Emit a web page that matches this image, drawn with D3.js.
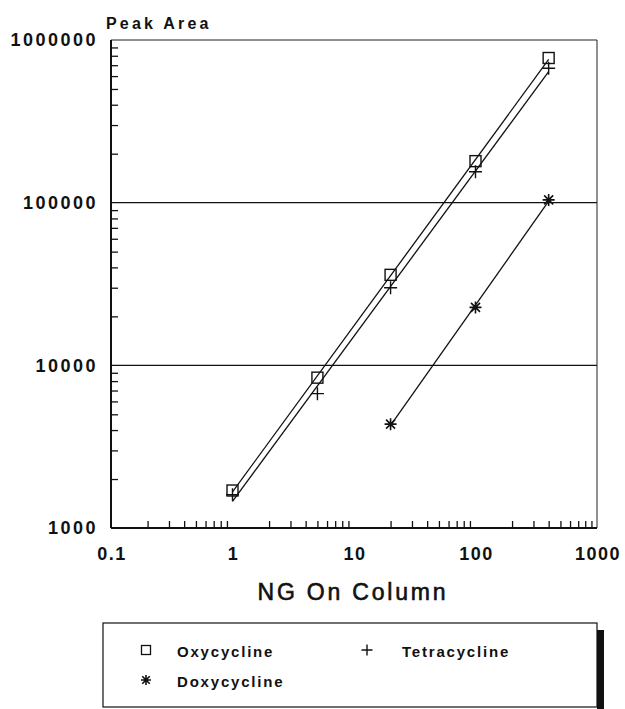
<!DOCTYPE html>
<html>
<head>
<meta charset="utf-8">
<script src="https://cdn.jsdelivr.net/npm/d3@7"></script>
<style>
  html, body { margin: 0; padding: 0; background: #fff; }
  svg { display: block; font-family: "Liberation Sans", Arial, Helvetica, sans-serif; }
</style>
</head>
<body>
<svg id="chart" width="625" height="709"></svg>
<script>
// ---- data ----
const ngOnColumn = [1, 5, 20, 100, 400];
const oxycycline = [1700, 8400, 36000, 180000, 775000];
const tetracycline = [1600, 6700, 30000, 155000, 670000];
const doxyNg = [20, 100, 400];
const doxycycline = [4350, 22700, 104000];
const xTicks = [0.1, 1, 10, 100, 1000];
const xTickLabels = ["0.1", "1", "10", "100", "1000"];
const yTicks = [1000, 10000, 100000, 1000000];
const yTickLabels = ["1000", "10000", "100000", "1000000"];
const gridValues = [10000, 100000];
const seriesNames = ["Oxycycline", "Tetracycline", "Doxycycline"];

const svg = d3.select("#chart");
const L = 111, R = 597, T = 40, B = 528;
const x = d3.scaleLog().domain([0.1, 1000]).range([L, R]);
const y = d3.scaleLog().domain([1000, 1000000]).range([B, T]);

// minor ticks
const minor = [];
for (let d = 0.1; d < 1000; d *= 10) for (let k = 2; k <= 9; k++) minor.push(d * k);
const minorY = [];
for (let d = 1000; d < 1000000; d *= 10) for (let k = 2; k <= 9; k++) minorY.push(d * k);

const g = svg.append("g");

// gridlines
g.selectAll(".grid").data(gridValues).enter().append("line")
  .attr("x1", L).attr("x2", R)
  .attr("y1", d => y(d)).attr("y2", d => y(d))
  .attr("stroke", "#111").attr("stroke-width", 1.4);

// frame: top and right thin
g.append("line").attr("x1", L).attr("x2", R).attr("y1", T).attr("y2", T).attr("stroke", "#222").attr("stroke-width", 1);
g.append("line").attr("x1", R).attr("x2", R).attr("y1", T).attr("y2", B).attr("stroke", "#222").attr("stroke-width", 1);

// axes using d3 axis, ticks inward
const xAxis = d3.axisTop(x).tickValues(minor).tickSize(7).tickFormat("");
const xg = g.append("g").attr("transform", `translate(0,${B})`).call(xAxis);
xg.select(".domain").remove();
xg.selectAll(".tick line").attr("stroke", "#111").attr("stroke-width", 1.3);

const yAxis = d3.axisRight(y).tickValues(minorY).tickSize(7).tickFormat("");
const yg = g.append("g").attr("transform", `translate(${L},0)`).call(yAxis);
yg.select(".domain").remove();
yg.selectAll(".tick line").attr("stroke", "#111").attr("stroke-width", 1.3);

// left & bottom axis lines
g.append("line").attr("x1", L).attr("x2", L).attr("y1", T).attr("y2", B).attr("stroke", "#111").attr("stroke-width", 2);
g.append("line").attr("x1", L).attr("x2", R).attr("y1", B).attr("y2", B).attr("stroke", "#111").attr("stroke-width", 2);

// tick labels
g.selectAll(".yl").data(yTicks).enter().append("text")
  .attr("x", 98).attr("y", d => y(d)).attr("dy", "0.36em")
  .attr("text-anchor", "end").attr("font-size", 18).attr("font-weight", "bold")
  .attr("letter-spacing", 2.5).attr("fill", "#111")
  .text((d, i) => yTickLabels[i]);

g.selectAll(".xl").data(xTicks).enter().append("text")
  .attr("x", d => x(d) + 1).attr("y", 560)
  .attr("text-anchor", "middle").attr("font-size", 18).attr("font-weight", "bold")
  .attr("letter-spacing", 1.5).attr("fill", "#111")
  .text((d, i) => xTickLabels[i]);

// axis titles
svg.append("text").attr("x", 106).attr("y", 29)
  .attr("font-size", 16).attr("font-weight", "bold").attr("letter-spacing", 3.2)
  .attr("fill", "#111").text("Peak Area");
svg.append("text").attr("x", 353).attr("y", 600).attr("text-anchor", "middle")
  .attr("font-size", 23).attr("letter-spacing", 2.8).attr("fill", "#111")
  .attr("stroke", "#111").attr("stroke-width", 0.6)
  .text("NG On Column");

// regression line in log-log space
function fit(xs, ys) {
  const lx = xs.map(Math.log10), ly = ys.map(Math.log10);
  const mx = d3.mean(lx), my = d3.mean(ly);
  const b = d3.sum(lx.map((v, i) => (v - mx) * (ly[i] - my))) / d3.sum(lx.map(v => (v - mx) ** 2));
  const a = my - b * mx;
  return v => Math.pow(10, a + b * Math.log10(v));
}
const line = d3.line().x(d => x(d[0])).y(d => y(d[1]));
function drawFit(xs, ys) {
  const f = fit(xs, ys);
  const ends = [xs[0], xs[xs.length - 1]];
  g.append("path").datum(ends.map(v => [v, f(v)])).attr("d", line)
    .attr("fill", "none").attr("stroke", "#111").attr("stroke-width", 1.3);
}
drawFit(ngOnColumn, oxycycline);
drawFit(ngOnColumn, tetracycline);
drawFit(doxyNg, doxycycline);

// markers
function square(sel, cx, cy) {
  sel.append("rect").attr("x", cx - 5.5).attr("y", cy - 5.5).attr("width", 11).attr("height", 11)
    .attr("fill", "none").attr("stroke", "#111").attr("stroke-width", 1.4);
}
function plus(sel, cx, cy, s) {
  s = s || 6.5;
  sel.append("path").attr("d", `M${cx - s},${cy}H${cx + s}M${cx},${cy - s}V${cy + s}`)
    .attr("stroke", "#111").attr("stroke-width", 1.4).attr("fill", "none");
}
function star(sel, cx, cy, s) {
  s = s || 6;
  const d = s * 0.75;
  sel.append("path").attr("d",
    `M${cx - s},${cy}H${cx + s}M${cx},${cy - s}V${cy + s}M${cx - d},${cy - d}L${cx + d},${cy + d}M${cx - d},${cy + d}L${cx + d},${cy - d}`)
    .attr("stroke", "#111").attr("stroke-width", 1.6).attr("fill", "none");
}
const mk = g.append("g");
ngOnColumn.forEach((v, i) => square(mk, x(v), y(oxycycline[i])));
ngOnColumn.forEach((v, i) => plus(mk, x(v), y(tetracycline[i])));
doxyNg.forEach((v, i) => star(mk, x(v), y(doxycycline[i])));

// legend
const lg = svg.append("g");
lg.append("rect").attr("x", 597).attr("y", 630).attr("width", 7).attr("height", 80).attr("fill", "#111");
lg.append("rect").attr("x", 103).attr("y", 623).attr("width", 494).attr("height", 84)
  .attr("fill", "#fff").attr("stroke", "#111").attr("stroke-width", 1.2);
const legendItems = [
  { name: seriesNames[0], mx: 146, my: 650, tx: 177, ty: 657, m: "square" },
  { name: seriesNames[1], mx: 367, my: 650, tx: 402, ty: 657, m: "plus" },
  { name: seriesNames[2], mx: 146, my: 680, tx: 177, ty: 687, m: "star" }
];
legendItems.forEach(it => {
  if (it.m === "square") {
    lg.append("rect").attr("x", it.mx - 4.5).attr("y", it.my - 4.5).attr("width", 9).attr("height", 9)
      .attr("fill", "none").attr("stroke", "#111").attr("stroke-width", 1.3);
  } else if (it.m === "plus") plus(lg, it.mx, it.my, 5.5);
  else star(lg, it.mx, it.my, 5);
  lg.append("text").attr("x", it.tx).attr("y", it.ty).attr("font-size", 15).attr("font-weight", "bold")
    .attr("letter-spacing", 1.8).attr("fill", "#111").text(it.name);
});
</script>
</body>
</html>
